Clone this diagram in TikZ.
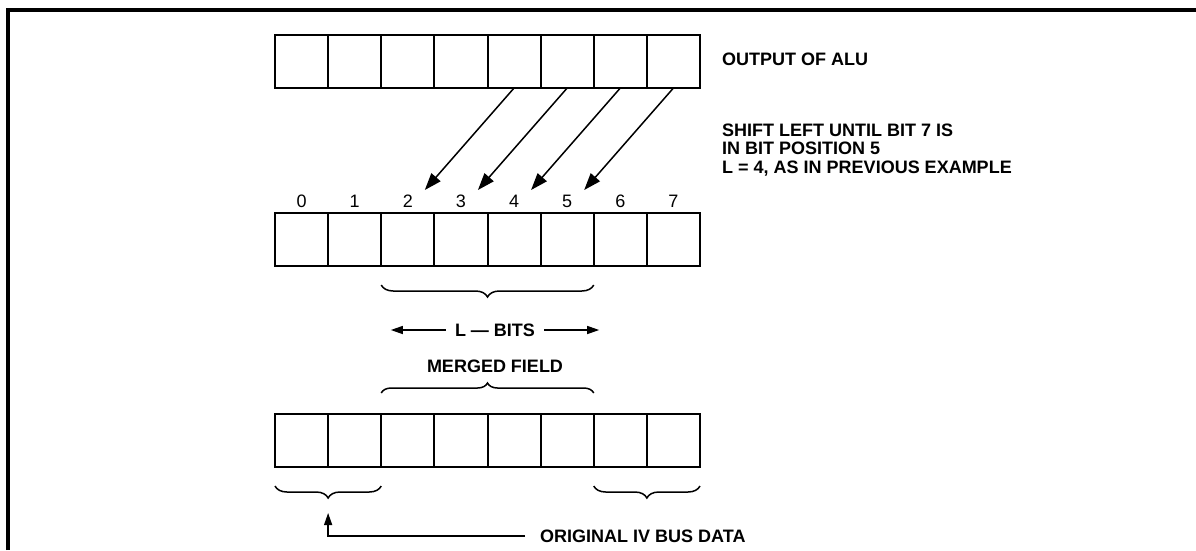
\documentclass[tikz,border=0pt]{standalone}
\usepackage{fontspec}
\setmainfont{Liberation Sans}
\usepackage{tikz}
\usetikzlibrary{positioning, arrows.meta, calc, decorations.pathreplacing}
\tikzset{
  bitcell/.style={
    draw, line width=2pt,
    minimum width=53.125pt, minimum height=53pt,
    inner sep=0pt, outer sep=0pt
  },
  bitnum/.style={font=\fontsize{18}{18}\selectfont, inner sep=0pt},
  caption/.style={
    font=\fontsize{18}{18.5}\selectfont\bfseries,
    inner sep=0pt, align=left
  },
  shift arrow/.style={-{Triangle[length=17pt, width=12pt]}, line width=1.5pt},
  bits arrow/.style={-{Triangle[length=12pt, width=8pt]}, line width=1.3pt},
  under brace/.style={decorate, decoration={brace, mirror, amplitude=12pt}, line width=1.5pt},
  over brace/.style={decorate, decoration={brace, amplitude=10pt}, line width=1.5pt}
}
\begin{document}
\begin{tikzpicture}[x=1pt, y=-1pt]
  \useasboundingbox (0,0) rectangle (1196,550);
  % Frame
  \draw[line width=3.5pt] (8,550) -- (8,10) -- (1196,10);

  % Registers and bit numbers
  \foreach \i in {0,...,7} {
    \node[bitcell] (t\i) at ({301.5625+53.125*\i}, 61.5) {};
    \node[bitcell] (m\i) at ({301.5625+53.125*\i}, 239.5) {};
    \node[bitcell] (b\i) at ({301.5625+53.125*\i}, 440.5) {};
    \node[bitnum] (n\i) at ({301.5625+53.125*\i}, 201) {\i};
  }

  % Shift arrows
  \foreach \i/\j in {4/2,5/3,6/4,7/5} {
    \coordinate (h\j) at ($(n\j)+(17,-11)$);
    \draw[shift arrow] (t\i.south) -- (h\j);
  }

  % Captions
  \node[caption, anchor=west] (alu) at (722,59) {OUTPUT OF ALU};
  \node[caption, anchor=north west] (shift) at (722,123.5)
    {SHIFT LEFT UNTIL BIT 7 IS\\IN BIT POSITION 5\\L = 4, AS IN PREVIOUS EXAMPLE};

  % L bits
  \draw[under brace] ([yshift=-19pt]m2.south west) -- ([yshift=-19pt]m5.south east);
  \node[caption] (lbits) at (495,330) {L — BITS};
  \draw[bits arrow] ([xshift=-9pt]lbits.west) -- ++(-55,0);
  \draw[bits arrow] ([xshift=9pt]lbits.east) -- ++(55,0);

  % Merged field
  \node[caption] (merged) at (495,366) {MERGED FIELD};
  \draw[over brace] ([yshift=21pt]b2.north west) -- ([yshift=21pt]b5.north east);

  % Original bus data
  \draw[under brace] ([yshift=-19pt]b0.south west) -- ([yshift=-19pt]b1.south east);
  \draw[under brace] ([yshift=-19pt]b6.south west) -- ([yshift=-19pt]b7.south east);
  \node[caption, anchor=west] (orig) at (540,536) {ORIGINAL IV BUS DATA};
  \coordinate (bustip) at ($(b0.south east)+(0,46)$);
  \draw[bits arrow] ([xshift=-15pt]orig.west) -| (bustip);
\end{tikzpicture}
\end{document}
